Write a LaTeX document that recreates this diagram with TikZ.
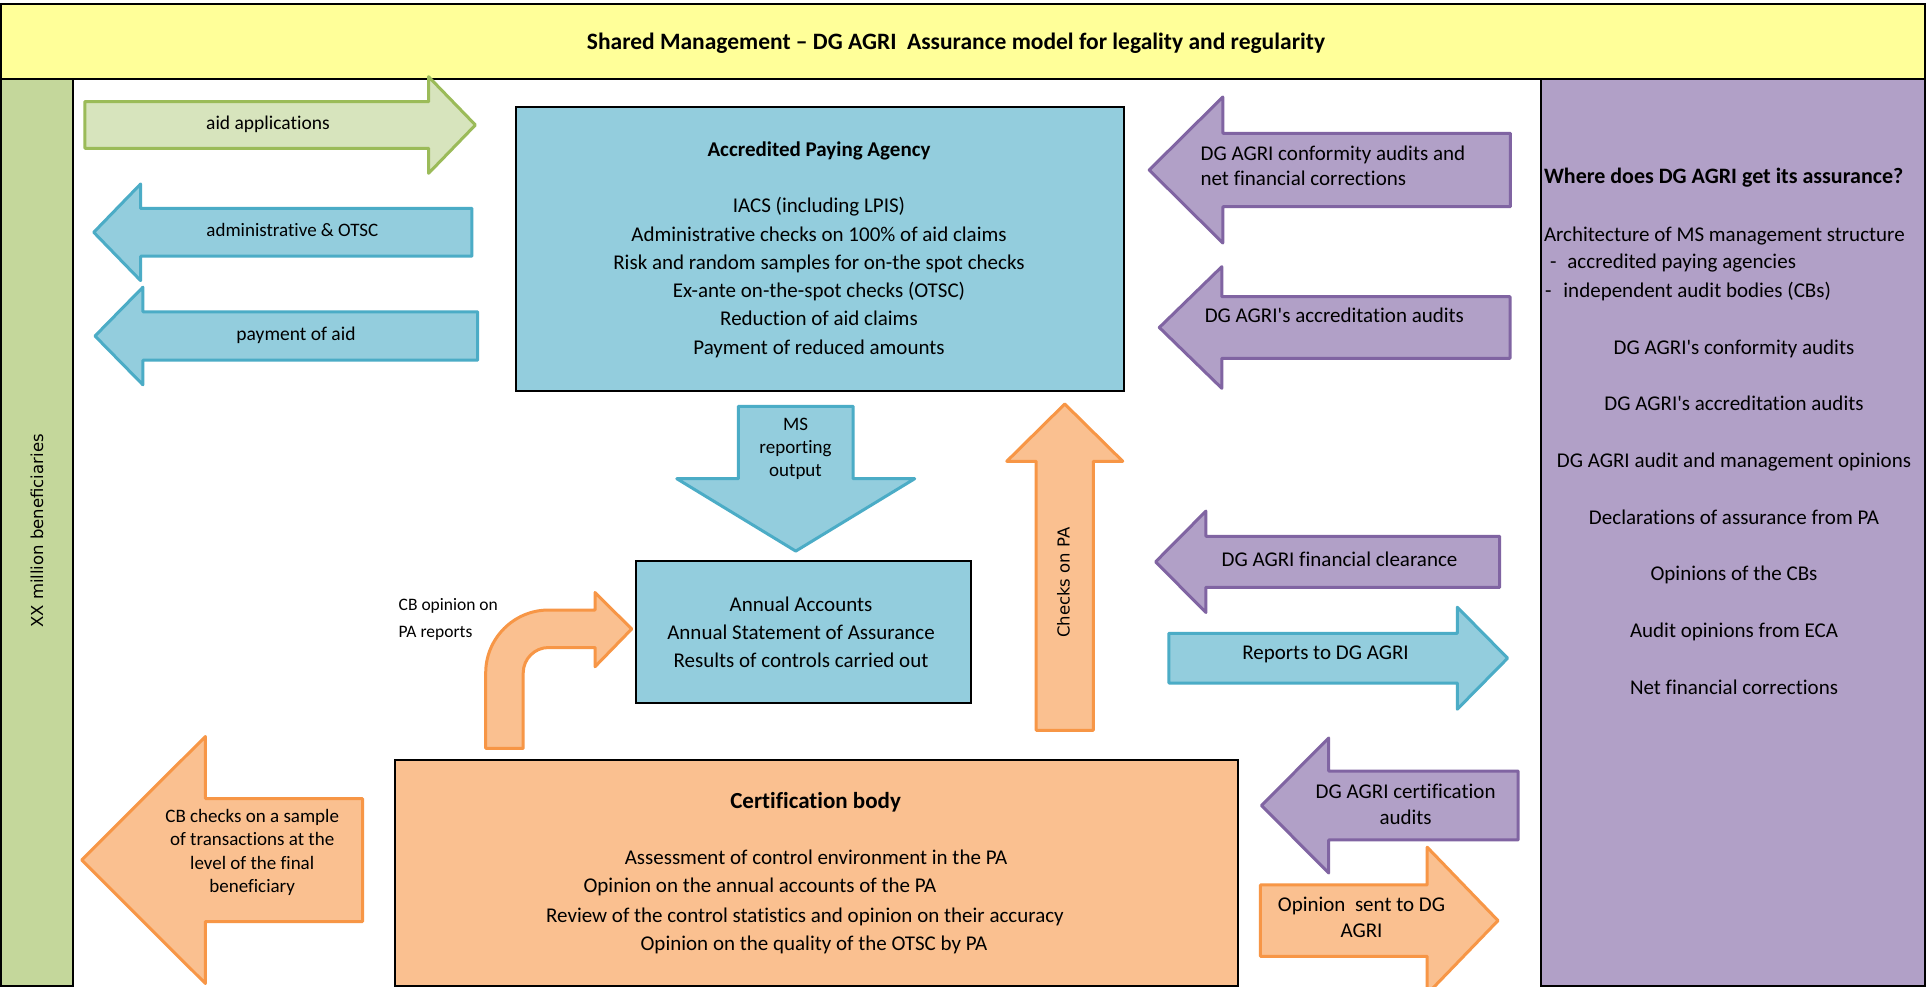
\documentclass[tikz,border=0pt]{standalone}
\usepackage{fontspec}
\setmainfont{Carlito}[Ligatures=NoCommon]
\newfontfamily\vfont{DejaVu Sans}
\definecolor{yel}{HTML}{FFFF99}
\definecolor{grcol}{HTML}{C4D79B}
\definecolor{purcol}{HTML}{B1A0C7}
\definecolor{bluef}{HTML}{93CDDD}
\definecolor{blued}{HTML}{4BACC6}
\definecolor{greenf}{HTML}{D7E4BD}
\definecolor{greend}{HTML}{9BBB59}
\definecolor{purf}{HTML}{B1A0C7}
\definecolor{purd}{HTML}{8064A2}
\definecolor{oraf}{HTML}{FAC090}
\definecolor{orad}{HTML}{F79646}
\newcommand{\BArrH}[7]{\draw[#1] ({#2},{#5-#6}) -- ({#3},{#5-#6}) -- ({#3},{#5-#7}) -- ({#4},{#5}) -- ({#3},{#5+#7}) -- ({#3},{#5+#6}) -- ({#2},{#5+#6}) -- cycle;}
\newcommand{\BArrV}[7]{\draw[#1] ({#5-#6},{#2}) -- ({#5-#6},{#3}) -- ({#5-#7},{#3}) -- ({#5},{#4}) -- ({#5+#7},{#3}) -- ({#5+#6},{#3}) -- ({#5+#6},{#2}) -- cycle;}
\newcommand{\apos}{\textquotesingle}
\begin{document}
\begin{tikzpicture}[x=1pt,y=-1pt,
  frame/.style={draw=black, line width=2pt, inner sep=0pt, outer sep=0pt, anchor=north west},
  txt/.style={inner sep=0pt, outer sep=0pt, font=\fontsize{21}{28.3}\selectfont},
  tm/.style={txt, anchor=mid, yshift=-2pt},
  tmw/.style={txt, anchor=mid west, yshift=-2pt},
  btxt/.style={inner sep=0pt, outer sep=0pt, anchor=mid, yshift=-2pt, font=\bfseries\fontsize{21}{28.3}\selectfont},
  blk/.style={line width=3pt, line join=round},
  garrow/.style={blk, draw=greend, fill=greenf},
  barrow/.style={blk, draw=blued, fill=bluef},
  parrow/.style={blk, draw=purd, fill=purf},
  oarrow/.style={blk, draw=orad, fill=oraf}]
\useasboundingbox (0,0) rectangle (1927,987);
\clip (0,0) rectangle (1927,987);
\fill[white] (0,0) rectangle (1927,987);
% frames
\node[frame, fill=yel, minimum width=1924pt, minimum height=75pt] (banner) at (1,4) {};
\node[frame, fill=grcol, minimum width=72pt, minimum height=907pt] (benefcol) at (1,79) {};
\node[frame, fill=purcol, minimum width=384pt, minimum height=907pt] (assurcol) at (1541,79) {};
\node[btxt, font=\bfseries\fontsize{23.5}{28}\selectfont] (title) at (956,45) {Shared Management – DG AGRI\ \ Assurance model for legality and regularity};
\node[inner sep=0pt, rotate=90, font=\vfont\fontsize{16.5}{20}\selectfont] (beneftxt) at (37,531) {XX million beneficiaries};
% left arrows
\BArrH{garrow}{84.8}{428.6}{475.4}{125}{23.3}{48.3}
\BArrH{barrow}{471.9}{140.6}{93.75}{232.3}{23.9}{48.3}
\BArrH{barrow}{477.7}{142.9}{95}{336}{24.2}{48.8}
\node[tm, font=\fontsize{19.5}{24}\selectfont] (aidtxt) at (268,125) {aid applications};
\node[tm, font=\fontsize{19}{24}\selectfont] (admtxt) at (292.4,232.3) {administrative \& OTSC};
\node[tm, font=\fontsize{19.5}{24}\selectfont] (paytxt) at (296,336) {payment of aid};
% APA box
\node[frame, fill=bluef, minimum width=608pt, minimum height=284.3pt] (apa) at (515.5,106.7) {};
\node[btxt] (apatitle) at (819,151.7) {Accredited Paying Agency};
\node[txt, align=center] (apalines) at (819,277.5) {IACS (including LPIS)\\Administrative checks on 100\% of aid claims\\Risk and random samples for on-the spot checks\\Ex-ante on-the-spot checks (OTSC)\\Reduction of aid claims\\Payment of reduced amounts};
% MS arrow
\BArrV{barrow}{406.3}{478.7}{551.1}{795.75}{57.35}{118.95}
\node[txt, align=center, font=\fontsize{19}{22.9}\selectfont] (mstxt) at (795.5,449) {MS\\reporting\\output};
% Annual box
\node[frame, fill=bluef, minimum width=335pt, minimum height=142.5pt] (annual) at (635.5,560.5) {};
\node[txt, align=center, font=\fontsize{21}{28.1}\selectfont] (annualtxt) at (801,632.5) {Annual Accounts\\Annual Statement of Assurance\\Results of controls carried out};
% Checks on PA
\BArrV{oarrow}{730.4}{461.3}{404}{1064.75}{28.55}{58}
\node[inner sep=0pt, rotate=90, font=\vfont\fontsize{16.5}{20}\selectfont] (checkstxt) at (1063.5,582.5) {Checks on PA};
% bent arrow
\draw[oarrow] (485.7,748.4) -- (485.7,673) .. controls (485.7,638.2) and (513.9,610) .. (548.7,610) -- (595,610) -- (595,592.5) -- (631.7,629) -- (595,666.7) -- (595,647.5) -- (548.7,647.5) .. controls (534.6,647.5) and (523.2,658.9) .. (523.2,673) -- (523.2,748.4) -- cycle;
\node[txt, align=left, anchor=west, font=\fontsize{17.5}{27.5}\selectfont] (cboptxt) at (398.7,619.5) {CB opinion on\\PA reports};
% CB checks arrow
\BArrH{oarrow}{362.5}{205.4}{81.7}{860}{61.5}{123.5}
\node[txt, align=center, font=\fontsize{19}{23.4}\selectfont] (cbchktxt) at (252.2,852.5) {CB checks on a sample\\of transactions at the\\level of the final\\beneficiary};
% Certification body
\node[frame, fill=oraf, minimum width=843pt, minimum height=226pt] (cert) at (395,760) {};
\node[btxt, font=\bfseries\fontsize{23}{28}\selectfont] (certtitle) at (815.6,803.9) {Certification body};
\node[tm] (cert1) at (816,860) {Assessment of control environment in the PA};
\node[tm] (cert2) at (760,888.3) {Opinion on the annual accounts of the PA};
\node[tm] (cert3) at (805,918.1) {Review of the control statistics and opinion on their accuracy};
\node[tm] (cert4) at (814,946) {Opinion on the quality of the OTSC by PA};
% right arrows
\BArrH{parrow}{1510.3}{1222.8}{1149.2}{170}{36.7}{73}
\node[txt, align=left, anchor=west, font=\fontsize{21}{25}\selectfont] (conftxt) at (1200.6,166) {DG AGRI conformity audits and\\net financial corrections};
\BArrH{parrow}{1510}{1221.8}{1159.3}{327.5}{30.8}{60.8}
\node[tmw] (accrtxt) at (1204.8,318.3) {DG AGRI\apos s accreditation audits};
\BArrH{parrow}{1499.7}{1205.9}{1155.6}{561.8}{25.5}{50.7}
\node[tm] (clrtxt) at (1339.5,561.8) {DG AGRI financial clearance};
\BArrH{barrow}{1168.8}{1457.3}{1507.6}{658.2}{24.8}{51}
\node[tm] (reptxt) at (1325.5,655) {Reports to DG AGRI};
\BArrH{parrow}{1518.2}{1328.7}{1261.5}{805.5}{34.4}{67.5}
\node[txt, align=center, font=\fontsize{21}{26}\selectfont] (certatxt) at (1405.6,804) {DG AGRI certification\\audits};
\BArrH{oarrow}{1260.4}{1427.2}{1498}{920.6}{35.7}{73.4}
\node[txt, align=center, font=\fontsize{21}{25.4}\selectfont] (opintxt) at (1361.5,917.5) {Opinion\ \ sent to DG\\AGRI};
% assurance column texts
\node[btxt, anchor=mid west, font=\bfseries\fontsize{22}{28}\selectfont] (where) at (1544,179.3) {Where does DG AGRI get its assurance?};
\node[tmw] (arch) at (1544,236.7) {Architecture of MS management structure};
\node[tmw] (arch1) at (1550,264.3) {-\hspace{11pt}accredited paying agencies};
\node[tmw] (arch2) at (1545,293.3) {-\hspace{12pt}independent audit bodies (CBs)};
\node[tm] (as1) at (1734,350) {DG AGRI\apos s conformity audits};
\node[tm] (as2) at (1734,406) {DG AGRI\apos s accreditation audits};
\node[tm] (as3) at (1734,463.4) {DG AGRI audit and management opinions};
\node[tm] (as4) at (1734,520.5) {Declarations of assurance from PA};
\node[tm] (as5) at (1734,576.6) {Opinions of the CBs};
\node[tm] (as6) at (1734,633.4) {Audit opinions from ECA};
\node[tm] (as7) at (1734,690.5) {Net financial corrections};
\end{tikzpicture}
\end{document}
